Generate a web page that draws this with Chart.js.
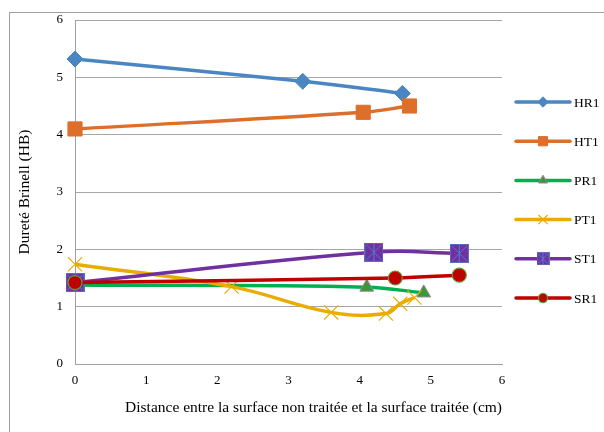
<!DOCTYPE html>
<html>
<head>
<meta charset="utf-8">
<script src="https://cdn.jsdelivr.net/npm/chart.js@4"></script>
<style>
  body { margin: 0; background: #fff; }
  canvas { display: block; }
</style>
</head>
<body>
<canvas id="chart" width="604" height="432"></canvas>
<script>
// values (distance in cm, hardness in HB)
const seriesNames = ['HR1', 'HT1', 'PR1', 'PT1', 'ST1', 'SR1'];

const hr1X = [0, 3.2, 4.6];
const hr1Y = [5.32, 4.93, 4.72];
const ht1X = [0, 4.05, 4.7];
const ht1Y = [4.1, 4.39, 4.5];
const pr1X = [0, 4.1, 4.9];
const pr1Y = [1.38, 1.34, 1.24];
const pt1X = [0, 2.2, 3.6, 4.37, 4.57, 4.77];
const pt1Y = [1.74, 1.35, 0.9, 0.88, 1.05, 1.16];
const st1X = [0, 4.2, 5.4];
const st1Y = [1.42, 1.95, 1.93];
const sr1X = [0, 4.5, 5.4];
const sr1Y = [1.42, 1.5, 1.55];

const xTicks = [0, 1, 2, 3, 4, 5, 6];
const yTicks = [0, 1, 2, 3, 4, 5, 6];

const FONT = 'Liberation Serif';

function pts(xs, ys) {
    return xs.map((x, i) => ({ x: x, y: ys[i] }));
}

// purple square with a blue star inside, like the ST1 marker
function makeStarSquare(side) {
    const c = document.createElement('canvas');
    c.width = side;
    c.height = side;
    const g = c.getContext('2d');
    g.fillStyle = '#7030a0';
    g.fillRect(0, 0, side, side);
    g.strokeStyle = '#5b6fc0';
    g.lineWidth = 1;
    g.strokeRect(0.5, 0.5, side - 1, side - 1);
    g.strokeStyle = '#4f7fd0';
    g.beginPath();
    g.moveTo(2, 2); g.lineTo(side - 2, side - 2);
    g.moveTo(side - 2, 2); g.lineTo(2, side - 2);
    g.moveTo(side / 2, 1); g.lineTo(side / 2, side - 1);
    g.stroke();
    return c;
}

const starBig = makeStarSquare(19);
const starSmall = makeStarSquare(13);

const datasets = [
    {
        label: seriesNames[0], data: pts(hr1X, hr1Y),
        borderColor: '#4a86c2', backgroundColor: '#4a86c2',
        pointStyle: 'rectRot', pointRadius: 8, pointBorderColor: '#4a86c2', pointBorderWidth: 1,
        order: 6
    },
    {
        label: seriesNames[1], data: pts(ht1X, ht1Y),
        borderColor: '#dd6f2b', backgroundColor: '#dd6f2b',
        pointStyle: 'rect', pointRadius: 10, pointBorderColor: '#dd6f2b', pointBorderWidth: 1,
        order: 5
    },
    {
        label: seriesNames[2], data: pts(pr1X, pr1Y),
        borderColor: '#00b050', backgroundColor: '#3c963c',
        pointStyle: 'triangle', pointRadius: 8, pointBorderColor: '#8c8c8c', pointBorderWidth: 1,
        order: 4
    },
    {
        label: seriesNames[3], data: pts(pt1X, pt1Y),
        borderColor: '#e8ad00', backgroundColor: '#e8ad00',
        pointStyle: 'crossRot', pointRadius: 10, pointBorderColor: '#e8ad00', pointBorderWidth: 1.2,
        order: 3
    },
    {
        label: seriesNames[4], data: pts(st1X, st1Y),
        borderColor: '#7030a0', backgroundColor: '#7030a0',
        pointStyle: starBig, pointRadius: 10,
        order: 2
    },
    {
        label: seriesNames[5], data: pts(sr1X, sr1Y),
        borderColor: '#c00000', backgroundColor: '#c00000',
        pointStyle: 'circle', pointRadius: 7, pointBorderColor: '#5f9e3a', pointBorderWidth: 1.2,
        order: 1
    }
];

datasets.forEach(ds => {
    ds.borderWidth = 3.5;
    ds.tension = 0.4;
    ds.fill = false;
    ds.clip = false;
    ds.pointBackgroundColor = ds.backgroundColor;
});

// outer frame of the chart object
const framePlugin = {
    id: 'frame',
    beforeDraw(chart) {
        const ctx = chart.ctx;
        ctx.save();
        ctx.strokeStyle = '#a0a0a0';
        ctx.lineWidth = 1;
        ctx.strokeRect(9.5, 12.5, 1000, 1000);
        ctx.restore();
    }
};

// legend drawn as a line with the marker in the middle
const legendPlugin = {
    id: 'lineLegend',
    afterDraw(chart) {
        const ctx = chart.ctx;
        const x0 = 516, x1 = 570, yStart = 102, step = 39.2;
        ctx.save();
        chart.data.datasets.forEach((ds, i) => {
            const y = yStart + i * step;
            ctx.strokeStyle = ds.borderColor;
            ctx.lineWidth = 3.5;
            ctx.lineCap = 'round';
            ctx.beginPath();
            ctx.moveTo(x0, y);
            ctx.lineTo(x1, y);
            ctx.stroke();
            ctx.lineCap = 'butt';
            ctx.fillStyle = ds.pointBackgroundColor;
            ctx.strokeStyle = ds.pointBorderColor || ds.borderColor;
            ctx.lineWidth = ds.pointBorderWidth || 1;
            const style = ds.pointStyle === starBig ? starSmall : ds.pointStyle;
            Chart.helpers.drawPoint(ctx, {
                pointStyle: style,
                radius: ds.pointRadius * 0.65,
                rotation: 0,
                borderWidth: ds.pointBorderWidth || 1
            }, (x0 + x1) / 2, y);
            ctx.fillStyle = '#000';
            ctx.font = '13.5px "' + FONT + '"';
            ctx.textBaseline = 'middle';
            ctx.textAlign = 'left';
            ctx.fillText(ds.label, 574, y + 1);
        });
        ctx.restore();
    }
};

new Chart(document.getElementById('chart'), {
    type: 'line',
    data: { datasets: datasets },
    plugins: [framePlugin, legendPlugin],
    options: {
        responsive: false,
        animation: false,
        layout: { padding: { top: 20, right: 102, left: 0, bottom: 0 } },
        plugins: {
            legend: { display: false },
            tooltip: { enabled: false }
        },
        scales: {
            x: {
                type: 'linear',
                min: xTicks[0],
                max: xTicks[xTicks.length - 1],
                afterFit(scale) { scale.height = 68; },
                afterBuildTicks(scale) { scale.ticks = xTicks.map(v => ({ value: v })); },
                grid: { display: false, drawTicks: false },
                border: { display: true, color: '#a0a0a0', width: 1 },
                ticks: {
                    padding: 9,
                    color: '#000',
                    font: { family: FONT, size: 13 },
                    maxRotation: 0
                },
                title: {
                    display: true,
                    text: 'Distance entre la surface non traitée et la surface traitée (cm)',
                    align: 'end',
                    color: '#000',
                    font: { family: FONT, size: 15.5 },
                    padding: { top: 0, bottom: 15 }
                }
            },
            y: {
                type: 'linear',
                min: yTicks[0],
                max: yTicks[yTicks.length - 1],
                afterFit(scale) { scale.width = 75; },
                afterBuildTicks(scale) { scale.ticks = yTicks.map(v => ({ value: v })); },
                grid: { color: '#a6a6a6', lineWidth: 1, drawTicks: false },
                border: { display: true, color: '#a0a0a0', width: 1 },
                ticks: {
                    padding: 12,
                    color: '#000',
                    font: { family: FONT, size: 13 }
                },
                title: {
                    display: true,
                    text: 'Dureté Brinell (HB)',
                    color: '#000',
                    font: { family: FONT, size: 15.5 },
                    padding: { top: 16, bottom: 0 }
                }
            }
        }
    }
});
</script>
</body>
</html>
